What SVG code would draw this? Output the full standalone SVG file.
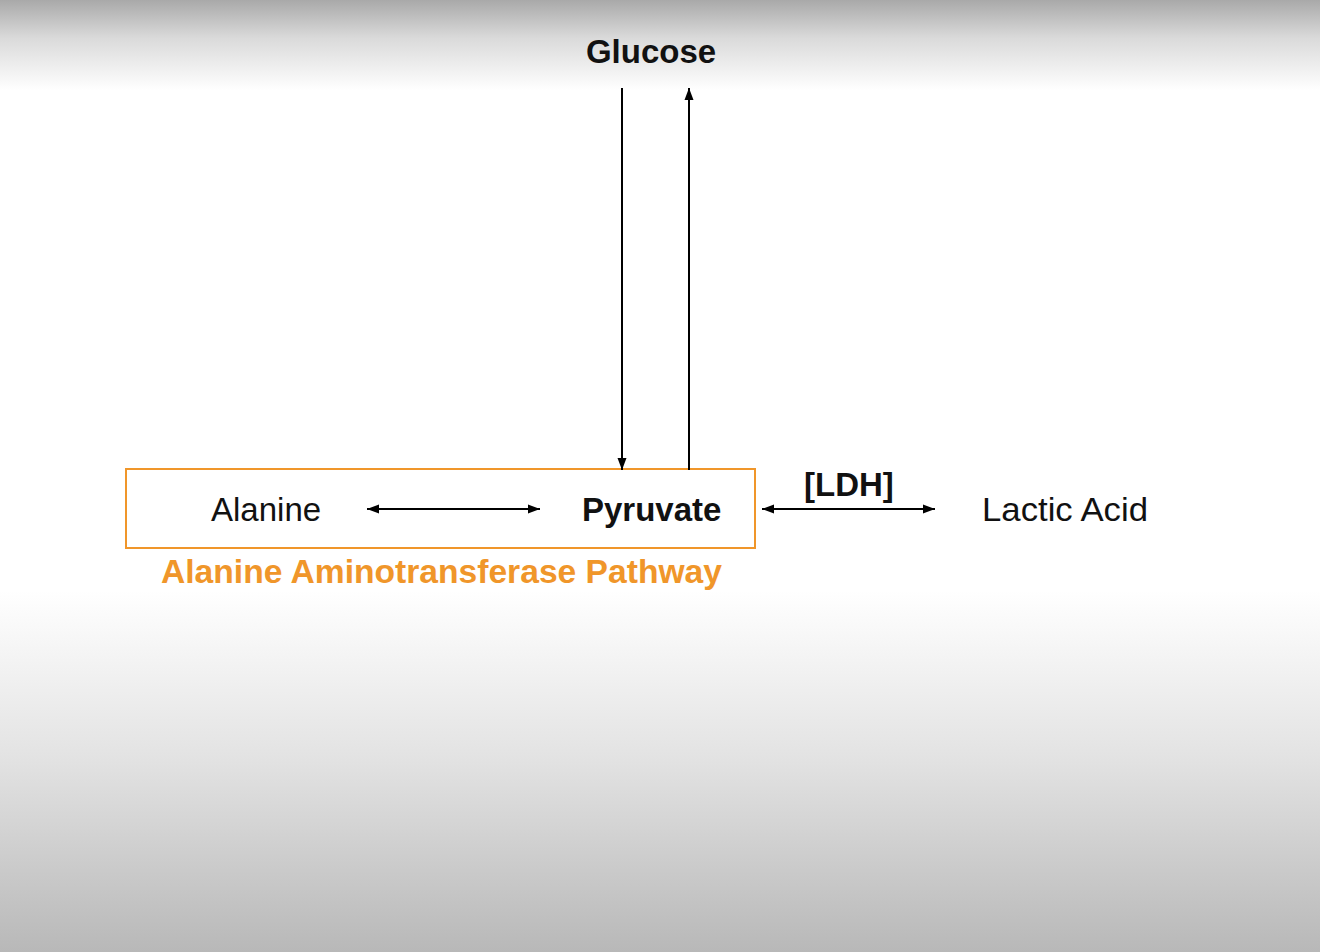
<svg xmlns="http://www.w3.org/2000/svg" width="1320" height="952" viewBox="0 0 1320 952">
<defs>
<linearGradient id="bg" x1="0" y1="0" x2="0" y2="1">
<stop offset="0" stop-color="#a9a9a9"/>
<stop offset="0.04" stop-color="#dadada"/>
<stop offset="0.095" stop-color="#ffffff"/>
<stop offset="0.62" stop-color="#ffffff"/>
<stop offset="0.8" stop-color="#e2e2e2"/>
<stop offset="1" stop-color="#b8b8b8"/>
</linearGradient>
<marker id="ah" viewBox="0 0 12 10" refX="12" refY="5" markerWidth="12" markerHeight="10" markerUnits="userSpaceOnUse" orient="auto-start-reverse">
<path d="M0,0.5 L12,5 L0,9.5 Z" fill="#000"/>
</marker>
<style>
text{font-family:"Liberation Sans",Arial,sans-serif;font-size:33px;fill:#111}
.b{font-weight:bold}
.o{fill:#f0962a;font-weight:bold;font-size:32.5px}
.c{stroke:#000;stroke-width:2;fill:none}
</style>
</defs>
<rect width="1320" height="952" fill="url(#bg)"/>
<g id="pathway-box">
<rect x="126" y="469" width="629" height="79" fill="none" stroke="#f0962a" stroke-width="2"/>
<text class="o" x="161" y="583" textLength="561" lengthAdjust="spacingAndGlyphs">Alanine Aminotransferase Pathway</text>
</g>
<g id="glucose"><text class="b" x="651" y="63" text-anchor="middle">Glucose</text></g>
<g id="alanine"><text x="211" y="521">Alanine</text></g>
<g id="pyruvate"><text class="b" x="582" y="521">Pyruvate</text></g>
<g id="lactic-acid"><text x="982" y="521" textLength="166" lengthAdjust="spacingAndGlyphs">Lactic Acid</text></g>
<g id="connectors">
<line class="c" x1="622" y1="88" x2="622" y2="470" marker-end="url(#ah)"/>
<line class="c" x1="689" y1="470" x2="689" y2="88" marker-end="url(#ah)"/>
<line class="c" x1="367" y1="509" x2="540" y2="509" marker-start="url(#ah)" marker-end="url(#ah)"/>
<line class="c" x1="762" y1="509" x2="935" y2="509" marker-start="url(#ah)" marker-end="url(#ah)"/>
<text class="b" x="804" y="496">[LDH]</text>
</g>
</svg>
